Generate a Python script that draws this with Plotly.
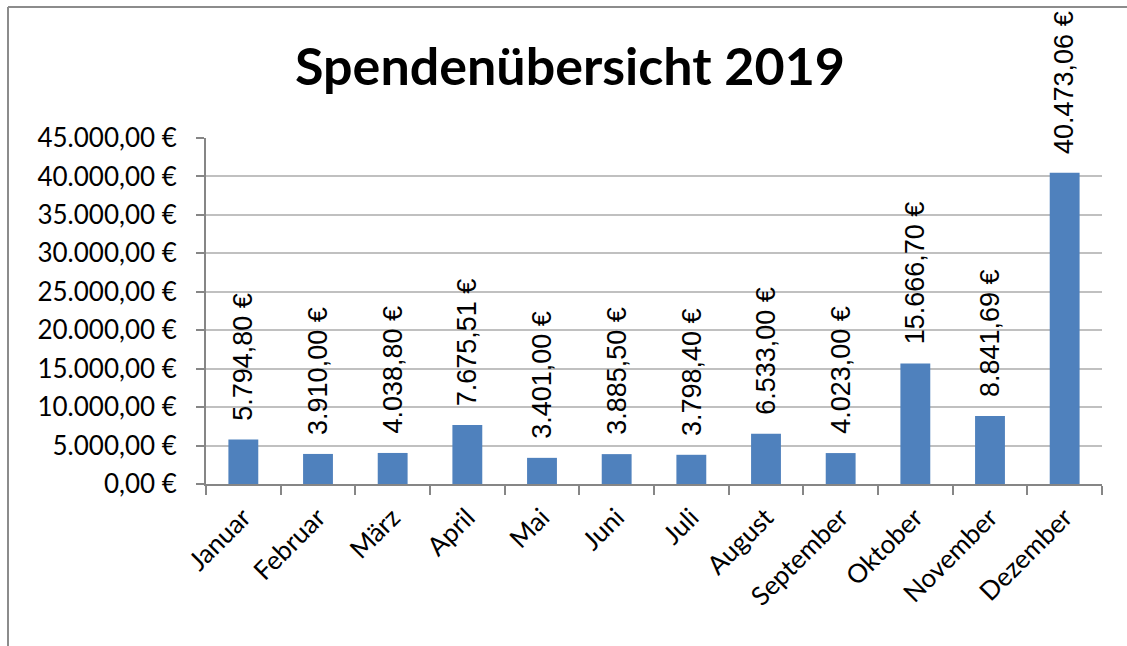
import plotly.graph_objects as go

months = ["Januar", "Februar", "März", "April", "Mai", "Juni", "Juli",
          "August", "September", "Oktober", "November", "Dezember"]
spenden = [5794.80, 3910.00, 4038.80, 7675.51, 3401.00, 3885.50, 3798.40,
           6533.00, 4023.00, 15666.70, 8841.69, 40473.06]
y_ticks = [0, 5000, 10000, 15000, 20000, 25000, 30000, 35000, 40000, 45000]
title_text = "Spendenübersicht 2019"


def euro(v):
    s = f"{v:,.2f}"
    s = s.replace(",", "X").replace(".", ",").replace("X", ".")
    return s + " €"


fig = go.Figure(go.Bar(
    x=months, y=spenden,
    marker=dict(color="#4F81BD", line=dict(width=0)),
    cliponaxis=False,
    hoverinfo="x+y",
))

for m, v in zip(months, spenden):
    fig.add_annotation(
        x=m, y=v, xref="x", yref="y",
        text=euro(v), textangle=-90, showarrow=False,
        xanchor="center", yanchor="bottom", yshift=17,
        font=dict(family="Liberation Sans", size=27, color="#000000"),
    )

L, R, T, B = 206, 25, 138, 162
W, H = 1127, 646
pw, ph = W - L - R, H - T - B

def px_x(p):
    return (p - L) / pw

def px_y(p):
    return (H - B - p) / ph

fig.update_layout(
    width=W, height=H,
    margin=dict(l=L, r=R, t=T, b=B),
    paper_bgcolor="white", plot_bgcolor="white",
    bargap=0.6,
    showlegend=False,
    font=dict(family="Lato, Open Sans, sans-serif", color="#000000"),
    title=dict(text="<b>" + title_text + "</b>", x=570 / W, xanchor="center",
               y=1 - 67 / H, yanchor="middle",
               font=dict(family="Lato, Open Sans, sans-serif", size=52, color="#000000")),
    shapes=[
        dict(type="line", xref="paper", yref="paper",
             x0=px_x(8), x1=px_x(1127), y0=px_y(7), y1=px_y(7),
             line=dict(color="#8c8c8c", width=2)),
        dict(type="line", xref="paper", yref="paper",
             x0=px_x(8), x1=px_x(8), y0=px_y(7), y1=px_y(646),
             line=dict(color="#8c8c8c", width=2)),
    ],
)

fig.update_xaxes(
    type="category",
    showline=True, linecolor="#868686", linewidth=2,
    ticks="outside", tickson="boundaries", ticklen=9, tickwidth=2, tickcolor="#868686",
    tickangle=-45,
    ticklabelstandoff=6,
    tickfont=dict(family="Lato, Open Sans, sans-serif", size=26, color="#000000"),
    showgrid=False,
)
fig.update_yaxes(
    range=[0, 45000],
    tickvals=y_ticks, ticktext=[euro(v) for v in y_ticks],
    showline=True, linecolor="#868686", linewidth=2,
    ticks="outside", ticklen=8, tickwidth=2, tickcolor="#868686",
    ticklabelstandoff=14,
    showgrid=True, gridcolor="#c0c0c0", gridwidth=2,
    tickfont=dict(family="Lato, Open Sans, sans-serif", size=26, color="#000000"),
    zeroline=False,
)

fig.write_html("out.html", config={"displayModeBar": False},
               post_script="document.body.style.margin='0';")
